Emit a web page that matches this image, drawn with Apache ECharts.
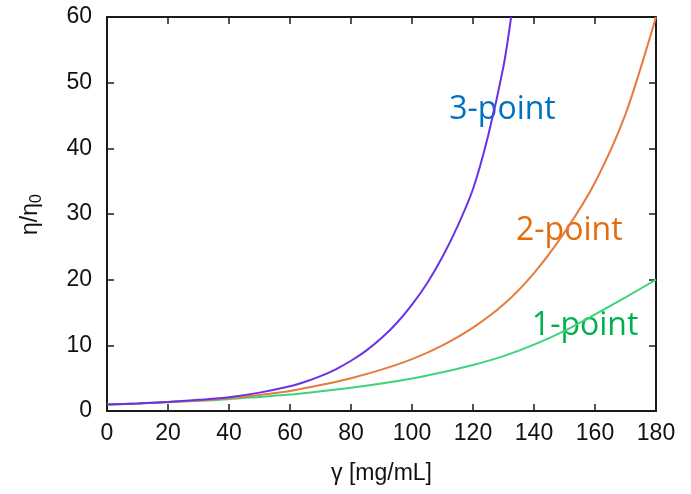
<!DOCTYPE html>
<html>
<head>
<meta charset="utf-8">
<script src="https://cdn.jsdelivr.net/npm/echarts@6/dist/echarts.min.js"></script>
<style>
  html, body { margin: 0; padding: 0; background: #fff; }
  #chart { width: 691px; height: 494px; }
</style>
</head>
<body>
<div id="chart"></div>
<script>
// gamma [mg/mL] vs relative viscosity
const x1 = [0, 10, 20, 30, 40, 50, 60, 70, 80, 90, 100, 110, 120, 130, 140, 150, 160, 170, 180]
const y1 = [1.0, 1.15, 1.35, 1.55, 1.8, 2.15, 2.5, 3.0, 3.55, 4.2, 4.95, 5.9, 7.0, 8.35, 10.1, 12.2, 14.7, 17.3, 20.0]

const x2 = [0, 10, 20, 30, 40, 50, 60, 70, 80, 90, 100, 110, 120, 130, 140, 150, 160, 170, 180]
const y2 = [1.0, 1.15, 1.37, 1.6, 1.95, 2.45, 3.05, 3.95, 5.0, 6.3, 7.9, 10.0, 12.7, 16.2, 21.0, 27.2, 34.8, 45.2, 60]

const x3 = [0, 10, 20, 30, 40, 50, 60, 65, 70, 75, 80, 85, 90, 95, 100, 105, 110, 115, 120, 125, 130, 132.5]
const y3 = [1.0, 1.15, 1.37, 1.7, 2.1, 2.8, 3.76, 4.45, 5.3, 6.35, 7.65, 9.2, 11.1, 13.4, 16.2, 19.5, 23.5, 28.2, 33.8, 42, 52.5, 60]

const curveNames = ['1-point', '2-point', '3-point']
const curveColors = ['#3fd47a', '#e57b3c', '#6a32e6']
const textColors = ['#00b050', '#e46c0a', '#0070c0']
// label anchors in data coords (left edge, middle)
const labelPos = [[139.3, 12.9], [134.1, 27.4], [112.2, 45.8]]

const chart = echarts.init(document.getElementById('chart'))

const tickFont = { fontFamily: 'Liberation Sans', fontSize: 23, color: '#111' }
const frame = { show: true, onZero: false, lineStyle: { color: '#1a1a1a', width: 2 } }
const ticks = { show: true, inside: true, length: 7, lineStyle: { color: '#1a1a1a', width: 1.5 } }

function pairs(xs, ys) {
  return xs.map((x, i) => [x, ys[i]])
}

chart.setOption({
  animation: false,
  grid: { left: 107, right: 35, top: 17, bottom: 83 },
  xAxis: [{
    type: 'value',
    min: 0,
    max: 180,
    interval: 20,
    name: 'γ [mg/mL]',
    nameLocation: 'middle',
    nameGap: 51,
    nameTextStyle: { fontFamily: 'Liberation Sans', fontSize: 23, color: '#111' },
    axisLine: frame,
    axisTick: ticks,
    axisLabel: Object.assign({ margin: 11 }, tickFont),
    splitLine: { show: false }
  }, {
    type: 'value',
    position: 'top',
    min: 0,
    max: 180,
    interval: 20,
    axisLine: frame,
    axisTick: ticks,
    axisLabel: { show: false },
    splitLine: { show: false }
  }],
  yAxis: [{
    type: 'value',
    min: 0,
    max: 60,
    interval: 10,
    axisLine: frame,
    axisTick: ticks,
    axisLabel: Object.assign({ margin: 15 }, tickFont),
    splitLine: { show: false }
  }, {
    type: 'value',
    position: 'right',
    min: 0,
    max: 60,
    interval: 10,
    axisLine: frame,
    axisTick: ticks,
    axisLabel: { show: false },
    splitLine: { show: false }
  }],
  series: [
    { name: curveNames[0], data: pairs(x1, y1) },
    { name: curveNames[1], data: pairs(x2, y2) },
    { name: curveNames[2], data: pairs(x3, y3) }
  ].map((s, i) => Object.assign(s, {
    type: 'line',
    smooth: 0.3,
    showSymbol: false,
    clip: true,
    lineStyle: { color: curveColors[i], width: 2 },
    itemStyle: { color: curveColors[i] }
  }))
})

// curve labels and the rotated y title
const graphics = curveNames.map((name, i) => {
  const p = chart.convertToPixel({ gridIndex: 0 }, labelPos[i])
  return {
    type: 'text',
    x: p[0],
    y: p[1],
    style: {
      text: name,
      fill: textColors[i],
      font: '32px "Open Sans"',
      textAlign: 'left',
      textVerticalAlign: 'middle'
    }
  }
})

graphics.push({
  type: 'group',
  x: 31,
  y: 210,
  rotation: Math.PI / 2,
  children: [{
    type: 'text',
    x: -25,
    y: 0,
    style: { text: 'η/η', fill: '#111', font: '23px "Liberation Sans"', textAlign: 'left', textVerticalAlign: 'middle' }
  }, {
    type: 'text',
    x: 7,
    y: 6,
    style: { text: '0', fill: '#111', font: '16px "Liberation Sans"', textAlign: 'left', textVerticalAlign: 'middle' }
  }]
})

chart.setOption({ graphic: graphics })
</script>
</body>
</html>
